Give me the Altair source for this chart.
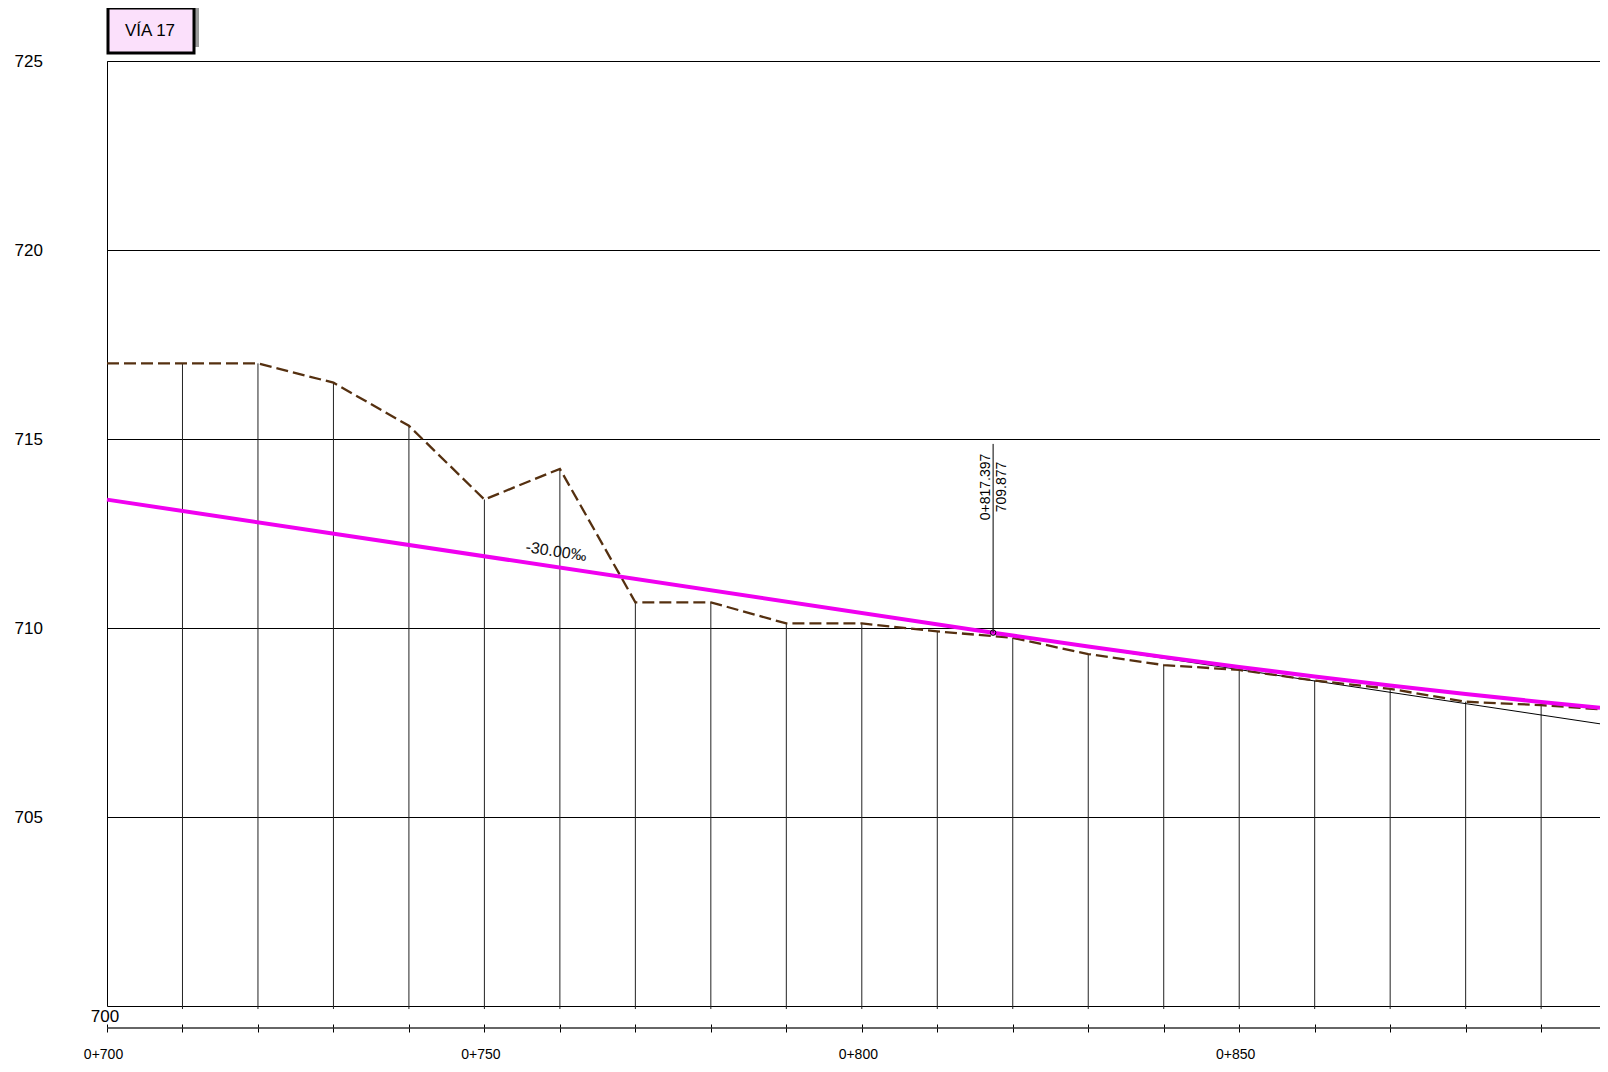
import altair as alt
import pandas as pd

# ---- data ----
stations = [700, 710, 720, 730, 740, 750, 760, 770, 780, 790, 800,
            810, 820, 830, 840, 850, 860, 870, 880, 890]
end_station = 897.8

terrain_x = stations + [end_station]
terrain_z = [717.00, 717.00, 717.00, 716.49, 715.35, 713.40, 714.21, 710.68, 710.68, 710.12, 710.12,
             709.91, 709.74, 709.31, 709.02, 708.89, 708.61, 708.39, 708.05, 707.96, 707.85]

grade_x = [700, 817.397, 820, 830, 840, 850, 860, 870, 880, 890, 897.8]
grade_z = [713.396, 709.877, 709.799, 709.509, 709.233, 708.969, 708.716, 708.477, 708.253, 708.043, 707.89]

tangent_x = [817.397, 897.8]
tangent_z = [709.877, 707.465]

pi_station = 817.397
pi_elev = 709.877
pi_top = 714.87
pi_label_y = 713.73
slope_label = "-30.00‰"
slope_label_x = 759.5
slope_label_y = 712.02

y_ticks = [705, 710, 715, 720, 725]
title_text = "VÍA 17"

W, H = 1493, 945
FONT = "Liberation Sans"

xs = alt.Scale(domain=[700, end_station], nice=False, zero=False)
ys = alt.Scale(domain=[700, 725], nice=False, zero=False)

x_axis = alt.Axis(
    values=stations + [end_station], offset=18, domain=False, grid=False,
    ticks=True, tickSize=8, tickColor="black", tickWidth=1,
    labelExpr="datum.value % 50 == 0 ? '0+' + datum.value : ''",
    labelFlush=False, labelOverlap=False, labelPadding=22, labelBaseline="middle",
    labelFontSize=14, labelFont=FONT, labelColor="black", labelOffset=-4, title=None,
)
y_axis = alt.Axis(
    values=y_ticks, grid=True, gridColor="black", gridWidth=1, gridOpacity=1,
    domain=False, ticks=False, tickSize=0, labelPadding=93, labelAlign="left",
    labelBaseline="middle", labelFontSize=17, labelFont=FONT, labelColor="black", title=None,
)


def X(f):
    return alt.X(f, type="quantitative", scale=xs, axis=x_axis)


def Y(f):
    return alt.Y(f, type="quantitative", scale=ys, axis=y_axis)


terrain_df = pd.DataFrame({"x": terrain_x, "z": terrain_z})
station_df = pd.DataFrame({"x": stations[1:], "z": terrain_z[1:len(stations)], "base": [699.92] * (len(stations) - 1)})
grade_df = pd.DataFrame({"x": grade_x, "z": grade_z})
tangent_df = pd.DataFrame({"x": tangent_x, "z": tangent_z})
one = pd.DataFrame({"a": [0]})

station_rules = alt.Chart(station_df).mark_rule(color="#222222", strokeWidth=1).encode(
    x=X("x"), y=Y("base"), y2="z"
)

tangent = alt.Chart(tangent_df).mark_line(color="black", strokeWidth=1).encode(x=X("x"), y=Y("z"))

terrain = alt.Chart(terrain_df).mark_line(color="#553010", strokeWidth=2.3, strokeDash=[12, 5]).encode(
    x=X("x"), y=Y("z")
)

grade = alt.Chart(grade_df).mark_line(color="#f000f0", strokeWidth=4).encode(x=X("x"), y=Y("z"))

pi_df = pd.DataFrame({"x": [pi_station], "z": [pi_elev], "top": [pi_top], "ly": [pi_label_y],
                      "t1": ["0+817.397"], "t2": [f"{pi_elev:.3f}"]})
pi_line = alt.Chart(pi_df).mark_rule(color="black", strokeWidth=1).encode(x=X("x"), y=Y("z"), y2="top")
pi_circle = alt.Chart(pi_df).mark_point(shape="circle", size=30, filled=False, color="black",
                                        strokeWidth=1, opacity=1).encode(x=X("x"), y=Y("z"))
pi_text1 = alt.Chart(pi_df).mark_text(angle=270, align="center", baseline="bottom", fontSize=14,
                                      font=FONT, color="black").encode(x=X("x"), y=Y("ly"), text="t1:N")
pi_text2 = alt.Chart(pi_df).mark_text(angle=270, align="center", baseline="top", dy=2, fontSize=14,
                                      font=FONT, color="black").encode(x=X("x"), y=Y("ly"), text="t2:N")

slope_df = pd.DataFrame({"x": [slope_label_x], "y": [slope_label_y], "t": [slope_label]})
slope_text = alt.Chart(slope_df).mark_text(angle=8.5, align="center", baseline="middle", fontSize=16,
                                           font=FONT, color="#111111").encode(x=X("x"), y=Y("y"), text="t:N")

zero_df = pd.DataFrame({"x": [700], "y": [700], "t": ["700"]})
zero_text = alt.Chart(zero_df).mark_text(align="center", baseline="middle", dx=-2, dy=11, fontSize=17,
                                         font=FONT, color="black").encode(x=X("x"), y=Y("y"), text="t:N")

axis_line = alt.Chart(one).mark_rule(color="#333333", strokeWidth=1.5).encode(
    x=alt.datum(700, scale=xs, axis=x_axis, type="quantitative"),
    x2=alt.datum(end_station),
    y=alt.value(H + 22),
)

shadow = alt.Chart(one).mark_rect(color="#9a9a9a").encode(
    x=alt.value(7), x2=alt.value(92), y=alt.value(-59), y2=alt.value(-14)
)
box = alt.Chart(one).mark_rect(fill="#fbe0fb", stroke="black", strokeWidth=3).encode(
    x=alt.value(1), x2=alt.value(87), y=alt.value(-53), y2=alt.value(-8)
)
box_text = alt.Chart(pd.DataFrame({"t": [title_text]})).mark_text(
    align="center", baseline="middle", fontSize=17, font="Liberation Sans Narrow, Liberation Sans",
    color="black").encode(x=alt.value(43), y=alt.value(-30), text="t:N")

chart = alt.layer(
    station_rules, tangent, terrain, grade, pi_line, pi_circle, pi_text1, pi_text2,
    slope_text, zero_text, axis_line, shadow, box, box_text,
).properties(
    width=W, height=H,
    padding={"left": 99, "top": 53, "right": 0, "bottom": 56},
    autosize=alt.AutoSizeParams(type="none"),
    background="white",
).configure_view(stroke="black", strokeWidth=1)

chart.save("out.html", embed_options={"renderer": "svg", "actions": False})
